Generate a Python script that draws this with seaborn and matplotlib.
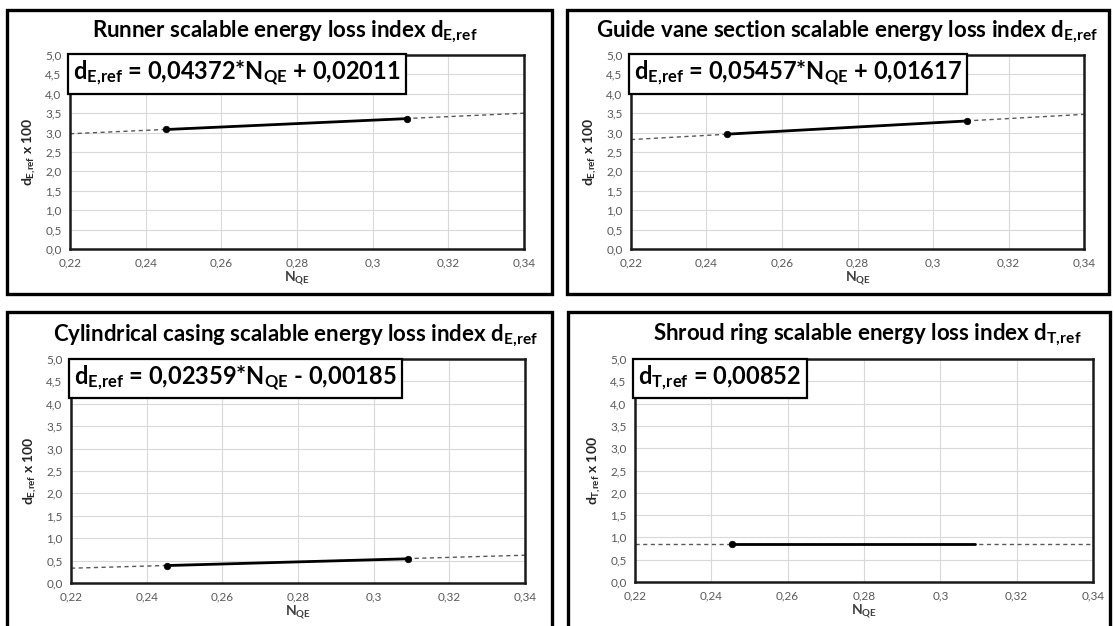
import matplotlib
matplotlib.use("Agg")
import matplotlib.pyplot as plt
from matplotlib.patches import Rectangle
import seaborn as sns
import pandas as pd

# ---- data ----
nqe_points = [0.2455, 0.309]
runner_y = [3.08, 3.36]
guide_y = [2.96, 3.30]
casing_y = [0.39, 0.54]
shroud_y = [0.852, 0.852]

trend_x = [0.22, 0.34]
runner_trend = [2.97, 3.50]
guide_trend = [2.82, 3.47]
casing_trend = [0.33, 0.62]
shroud_trend = [0.852, 0.852]

titles = [
    r"Runner scalable energy loss index $\mathbf{d_{E,\!ref}}$",
    r"Guide vane section scalable energy loss index $\mathbf{d_{E,\!ref}}$",
    r"Cylindrical casing scalable energy loss index $\mathbf{d_{E,\!ref}}$",
    r"Shroud ring scalable energy loss index $\mathbf{d_{T,\!ref}}$",
]
equations = [
    r"$\mathbf{d_{E,\!ref}}$ = 0,04372*$\mathbf{N_{QE}}$ + 0,02011",
    r"$\mathbf{d_{E,\!ref}}$ = 0,05457*$\mathbf{N_{QE}}$ + 0,01617",
    r"$\mathbf{d_{E,\!ref}}$ = 0,02359*$\mathbf{N_{QE}}$ - 0,00185",
    r"$\mathbf{d_{T,\!ref}}$ = 0,00852",
]
ylabels = [
    r"$\mathbf{d_{E,\!ref}}$ x 100",
    r"$\mathbf{d_{E,\!ref}}$ x 100",
    r"$\mathbf{d_{E,\!ref}}$ x 100",
    r"$\mathbf{d_{T,\!ref}}$ x 100",
]
xlabel = r"$\mathbf{N_{QE}}$"
x_ticks = [0.22, 0.24, 0.26, 0.28, 0.30, 0.32, 0.34]
x_ticklabels = ["0,22", "0,24", "0,26", "0,28", "0,3", "0,32", "0,34"]
y_ticks = [0.0, 0.5, 1.0, 1.5, 2.0, 2.5, 3.0, 3.5, 4.0, 4.5, 5.0]
y_ticklabels = ["0,0", "0,5", "1,0", "1,5", "2,0", "2,5", "3,0", "3,5", "4,0", "4,5", "5,0"]

series = [runner_y, guide_y, casing_y, shroud_y]
trends = [runner_trend, guide_trend, casing_trend, shroud_trend]
marker_idx = [[0, 1], [0, 1], [0, 1], [0]]

# ---- style ----
sns.set_theme(style="white")
plt.rcParams["font.family"] = ["Lato", "DejaVu Sans"]
plt.rcParams["mathtext.fontset"] = "custom"
plt.rcParams["mathtext.rm"] = "Lato"
plt.rcParams["mathtext.it"] = "Lato:italic"
plt.rcParams["mathtext.bf"] = "Lato:bold"

W, H = 1115, 626
fig = plt.figure(figsize=(W / 100, H / 100), dpi=100)
fig.patch.set_facecolor("white")

def fx(px):
    return px / W

def fy(py):
    return 1 - py / H

# axes rectangles in pixels (left, top, right, bottom)
ax_px = [(70, 55, 524, 249), (631, 55, 1084, 249), (71, 359, 525, 583), (635, 359, 1093, 582)]
frame_px = [(7, 10, 552, 294), (567, 10, 1109, 294), (7, 312, 552, 640), (568, 312, 1110, 640)]
title_px = [(285, 32), (847, 32), (295, 336), (867, 335)]

for i in range(4):
    fl, ft, fr, fb = frame_px[i]
    fig.patches.append(Rectangle((fx(fl), fy(fb)), fx(fr) - fx(fl), fy(ft) - fy(fb),
                                 transform=fig.transFigure, fill=False, ec="black", lw=2.4, zorder=0))
    l, t, r, b = ax_px[i]
    ax = fig.add_axes([fx(l), fy(b), fx(r) - fx(l), fy(t) - fy(b)])

    df_trend = pd.DataFrame({"x": trend_x, "y": trends[i]})
    sns.lineplot(data=df_trend, x="x", y="y", ax=ax, color="#595959", lw=1.0,
                 linestyle=(0, (3, 2.5)), zorder=2)
    df = pd.DataFrame({"x": nqe_points, "y": series[i]})
    sns.lineplot(data=df, x="x", y="y", ax=ax, color="black", lw=2.0, zorder=3)
    dm = df.iloc[marker_idx[i]]
    sns.scatterplot(data=dm, x="x", y="y", ax=ax, color="black", s=22, zorder=4,
                    edgecolor="black", linewidth=0.5)

    ax.set_xlim(0.22, 0.34)
    ax.set_ylim(0, 5)
    ax.set_xticks(x_ticks)
    ax.set_xticklabels(x_ticklabels)
    ax.set_yticks(y_ticks)
    ax.set_yticklabels(y_ticklabels)
    ax.tick_params(axis="both", length=0, labelsize=8.5, labelcolor="#595959", pad=6)
    ax.grid(True, color="#d9d9d9", lw=0.8)
    ax.set_axisbelow(True)
    for s in ax.spines.values():
        s.set_color("#1a1a1a")
        s.set_linewidth(1.8)
    ax.set_xlabel(xlabel, fontsize=10, color="#404040", labelpad=1)
    ax.set_ylabel(ylabels[i], fontsize=10, fontweight="bold", color="#262626", labelpad=5)

    ax.text(0.007, 0.978, equations[i], transform=ax.transAxes, ha="left", va="top",
            fontsize=17, fontweight="bold", color="black", zorder=10,
            bbox=dict(boxstyle="square,pad=0.22", fc="white", ec="black", lw=1.6))

    fig.text(fx(title_px[i][0]), fy(title_px[i][1]), titles[i], ha="center", va="center",
             fontsize=16, fontweight="bold", color="black")

fig.savefig("out.png", dpi=100)
